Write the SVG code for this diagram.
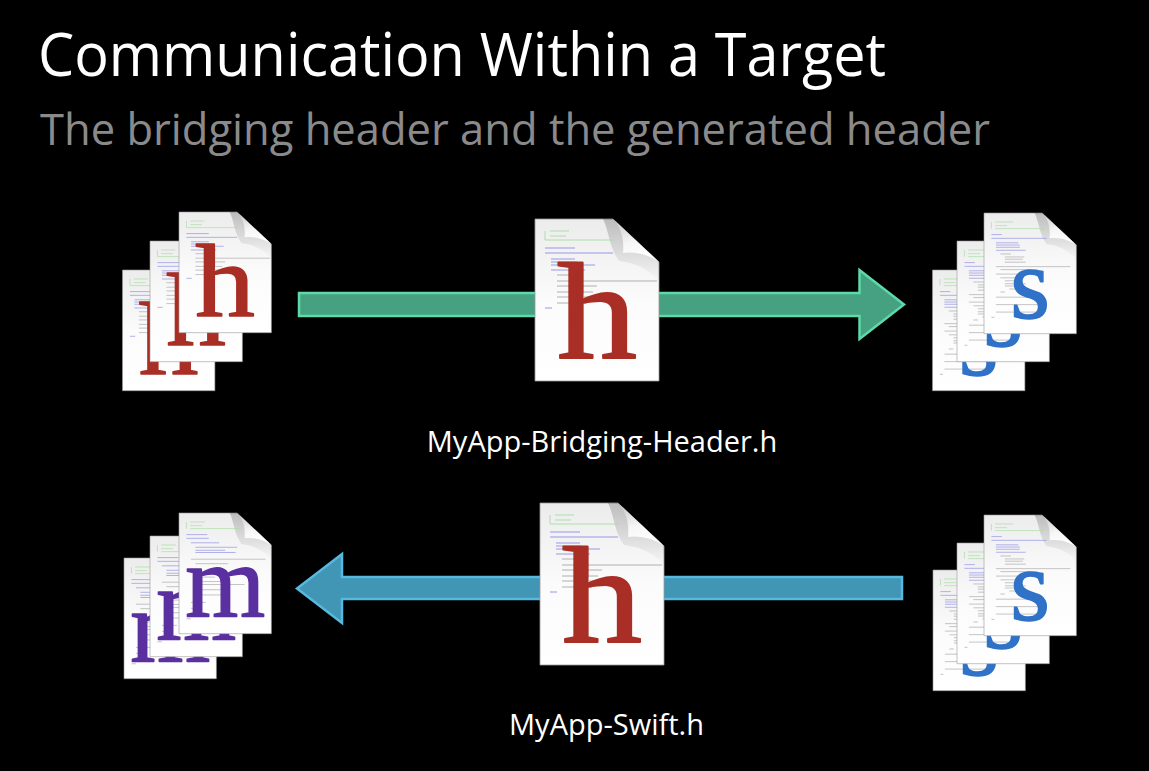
<svg xmlns="http://www.w3.org/2000/svg" xmlns:xlink="http://www.w3.org/1999/xlink" width="1149" height="771" viewBox="0 0 1149 771">
<style>
text{font-family:"Open Sans","Noto Sans","Liberation Sans",sans-serif}
.title{font-size:60px;fill:#fff}
.sub{font-size:44px;fill:#8a8a8a}
.label{font-size:29px;fill:#fff;text-anchor:middle}
.ltr{font-family:"Liberation Serif",serif;text-anchor:middle;stroke-width:2;stroke-linejoin:round}
.lh{font-size:138px;fill:#a92e25;stroke:#a92e25}
.ls{font-size:137px;fill:#2f72c8;stroke:#2f72c8}
.lm{font-size:138px;fill:#5a2f9f;stroke:#5a2f9f}
.c{fill:none;stroke-width:.9}
.cg{stroke:#a6dca0}.cb{stroke:#8f8fe4}.cd{stroke:#a8a8a8}
</style>
<defs>
<filter id="soft" x="-5%" y="-5%" width="110%" height="110%"><feGaussianBlur stdDeviation=".35"/></filter>
<linearGradient id="pg" x1="0" y1="0" x2="0" y2="1"><stop offset="0" stop-color="#ececec"/><stop offset=".5" stop-color="#fbfbfb"/><stop offset="1" stop-color="#fff"/></linearGradient>
<linearGradient id="fg" x1="0" y1="0" x2=".3" y2="1"><stop offset="0" stop-color="#c8c8c8"/><stop offset=".6" stop-color="#f6f6f6"/><stop offset="1" stop-color="#fff"/></linearGradient>
<linearGradient id="sh" x1="0" y1="0" x2="0" y2="1"><stop offset="0" stop-color="#000" stop-opacity=".2"/><stop offset="1" stop-color="#000" stop-opacity="0"/></linearGradient>
<g id="page">
<path d="M0,0H78L124,43V162H0Z" fill="url(#pg)" stroke="#9a9a9a" stroke-width=".8"/>
<path d="M68,0H78L124,43V64C116,50 100,44 84,42C74,28 74,12 68,0Z" fill="url(#sh)"/>
<path d="M78,0C88,10 89,24 88,34C100,32 115,36 124,43Z" fill="url(#fg)"/>
</g>
<g id="code-h" filter="url(#soft)">
<path class="c cg" d="M15,12h19M15,17h16M10,12v9M10,21h68"/>
<path class="c cb" d="M10,29h30M10,34h68M16,40h24M16,43h26M16,46h44M16,51h34"/>
<path class="c cd" d="M22,56h20M22,62h100M22,67h40M22,73h36M22,78h32M22,84h30"/>
<path class="c cb" d="M10,89h7"/>
</g>
<g id="code-s" filter="url(#soft)">
<path class="c cg" d="M15,12h24M15,17h16M10,12v9M15,21h66"/>
<path class="c cb" d="M10,29h14M10,34h74M16,40h30M16,43h32M16,46h32M16,50h40"/>
<path class="c cd" d="M22,55h14M28,59h26M28,62h24M28,66h28M16,72h100M22,76h50M16,82h44M22,87h30M28,91h20M28,95h28M28,98h20M34,102h26M22,106h6M16,113h60M16,123h60M16,133h66M10,140h4"/>
</g>
<g id="code-m" filter="url(#soft)">
<path class="c cg" d="M15,12h20M15,17h16M10,12v9M15,21h66"/>
<path class="c cb" d="M10,29h28M10,34h30M16,40h38M22,46h56M22,50h40M22,53h54"/>
<path class="c cd" d="M16,62h100M22,68h44M16,80h40M22,86h26M28,92h40M28,96h60M28,103h40M22,110h40M16,120h20M16,128h14M10,142h6"/>
</g>
<g id="doc-h"><use xlink:href="#page" href="#page"/><use xlink:href="#code-h" href="#code-h"/><text class="ltr lh" x="62" y="139" textLength="80" lengthAdjust="spacingAndGlyphs">h</text></g>
<g id="doc-s"><use xlink:href="#page" href="#page"/><use xlink:href="#code-s" href="#code-s"/><text class="ltr ls" x="62" y="141">s</text></g>
<g id="doc-m"><use xlink:href="#page" href="#page"/><use xlink:href="#code-m" href="#code-m"/><text class="ltr lm" x="62" y="139">m</text></g>
</defs>
<rect width="1149" height="771" fill="#000"/>
<text class="title" x="38" y="76" textLength="848" lengthAdjust="spacingAndGlyphs">Communication Within a Target</text>
<text class="sub" x="40" y="145" textLength="950" lengthAdjust="spacingAndGlyphs">The bridging header and the generated header</text>
<g id="connectors">
<polygon points="299,293 859.500,293 859.500,270 904,304.500 859.500,339 859.500,316 299,316" fill="#45a182" stroke="#5ed9a9" stroke-width="2.500"/>
<polygon points="902,577 342,577 342,554 297,588.500 342,623 342,599 902,599" fill="#4195b5" stroke="#56b9dd" stroke-width="2.500"/>
</g>
<g id="node-h-stack">
<use xlink:href="#doc-h" href="#doc-h" transform="translate(122.500,270) scale(.745)"/>
<use xlink:href="#doc-h" href="#doc-h" transform="translate(150,241) scale(.745)"/>
<use xlink:href="#doc-h" href="#doc-h" transform="translate(179,212) scale(.745)"/>
</g>
<g id="node-bridging-header">
<use xlink:href="#doc-h" href="#doc-h" transform="translate(535,219)"/>
<text class="label" x="602" y="452">MyApp-Bridging-Header.h</text>
</g>
<g id="node-s-stack-top">
<use xlink:href="#doc-s" href="#doc-s" transform="translate(932.500,270) scale(.745)"/>
<use xlink:href="#doc-s" href="#doc-s" transform="translate(957,241) scale(.745)"/>
<use xlink:href="#doc-s" href="#doc-s" transform="translate(984,213) scale(.745)"/>
</g>
<g id="node-m-stack">
<use xlink:href="#doc-m" href="#doc-m" transform="translate(124,558) scale(.745)"/>
<use xlink:href="#doc-m" href="#doc-m" transform="translate(150,536) scale(.745)"/>
<use xlink:href="#doc-m" href="#doc-m" transform="translate(179,513) scale(.745)"/>
</g>
<g id="node-swift-header">
<use xlink:href="#doc-h" href="#doc-h" transform="translate(540,503)"/>
<text class="label" x="606.500" y="735">MyApp-Swift.h</text>
</g>
<g id="node-s-stack-bottom">
<use xlink:href="#doc-s" href="#doc-s" transform="translate(933,570) scale(.745)"/>
<use xlink:href="#doc-s" href="#doc-s" transform="translate(957,543) scale(.745)"/>
<use xlink:href="#doc-s" href="#doc-s" transform="translate(984,515) scale(.745)"/>
</g>
</svg>
